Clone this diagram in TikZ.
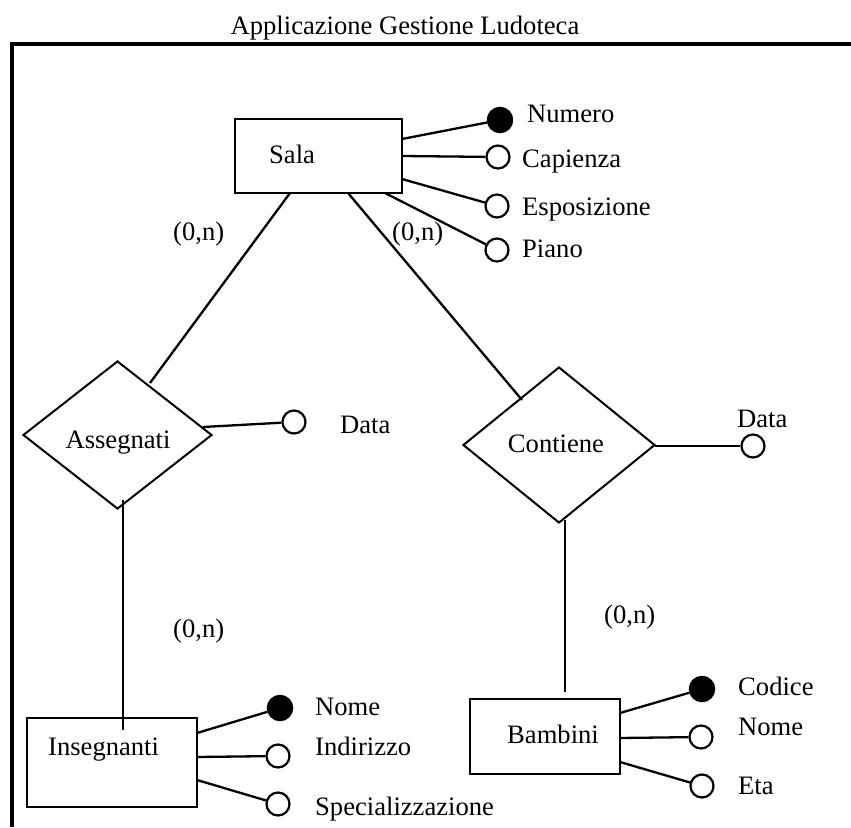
\documentclass[tikz,border=0pt]{standalone}
\usepackage{fontspec}
\setmainfont{Liberation Serif}
\usetikzlibrary{shapes.geometric}
\begin{document}
\begin{tikzpicture}[x=1pt,y=-1pt,
  every node/.style={font=\fontsize{26.6}{30}\selectfont, inner sep=0pt},
  entity/.style={draw, rectangle, line width=2.4pt},
  relation/.style={draw, diamond, line width=2pt},
  attr/.style={draw, circle, line width=2.2pt, minimum size=23pt, fill=white},
  keyattr/.style={draw, circle, line width=1.5pt, minimum size=25pt, fill=black},
  conn/.style={line width=2.3pt},
  thinconn/.style={line width=1.7pt},
  lbl/.style={anchor=base west},
  frame/.style={line width=3.2pt}]
\useasboundingbox (0,0) rectangle (851,827);
\clip (0,0) rectangle (851,827);

% title and frame
\node[anchor=base] (title) at (405,34) {Applicazione Gestione Ludoteca};
\coordinate (fA) at (12,827);
\coordinate (fB) at (12,44);
\coordinate (fC) at (851,44);
\draw[frame] (fA) -- (fB) -- (fC);

% entities
\node[entity, minimum width=167pt, minimum height=74pt] (sala) at (318.5,156) {};
\node[lbl] (salaT) at (269,163) {Sala};
\node[entity, minimum width=170pt, minimum height=89pt] (ins) at (112,762.5) {};
\node[lbl] (insT) at (48,755) {Insegnanti};
\node[entity, minimum width=150pt, minimum height=75pt] (bam) at (545,736.5) {};
\node[lbl] (bamT) at (507,743) {Bambini};

% relationships
\node[relation, minimum width=189pt, minimum height=148pt] (ass) at (117.5,435) {};
\node[anchor=base] (assT) at (118,448) {Assegnati};
\node[relation, minimum width=192pt, minimum height=156pt] (con) at (559,445) {};
\node[anchor=base] (conT) at (556,452) {Contiene};

% attribute circles
\node[keyattr] (cNum) at (500,120) {};
\node[attr] (cCap) at (498,157) {};
\node[attr] (cEsp) at (497,206) {};
\node[attr] (cPia) at (497,250) {};
\node[attr] (cAD) at (294,422) {};
\node[attr] (cCD) at (753,446) {};
\node[keyattr] (cINom) at (280,708) {};
\node[attr] (cIInd) at (278,756) {};
\node[attr] (cISpe) at (278,804) {};
\node[keyattr] (cBCod) at (702,689) {};
\node[attr] (cBNom) at (701,737) {};
\node[attr] (cBEta) at (702,786) {};

% attribute labels
\node[lbl] (tNum) at (527,122) {Numero};
\node[lbl] (tCap) at (522,167) {Capienza};
\node[lbl] (tEsp) at (522,215) {Esposizione};
\node[lbl] (tPia) at (522,257) {Piano};
\node[lbl] (tAD) at (340,433) {Data};
\node[lbl] (tCD) at (737,427) {Data};
\node[lbl] (tINom) at (315,715) {Nome};
\node[lbl] (tIInd) at (315,755) {Indirizzo};
\node[lbl] (tISpe) at (315,815) {Specializzazione};
\node[lbl] (tBCod) at (738,695) {Codice};
\node[lbl] (tBNom) at (738,735) {Nome};
\node[lbl] (tBEta) at (738,794) {Eta};

% cardinalities
\node[lbl] (k1) at (173,240) {(0,n)};
\node[lbl] (k2) at (392,240) {(0,n)};
\node[lbl] (k3) at (173,637) {(0,n)};
\node[lbl] (k4) at (604,623) {(0,n)};

% connection points
\coordinate (sNum) at (402,139);
\coordinate (sCap) at (402,156);
\coordinate (sEsp) at (402,179);
\coordinate (sPia) at (385,193);
\coordinate (sA) at (290,193);
\coordinate (aS) at (150,383);
\coordinate (sC) at (348,193);
\coordinate (cS) at (522,400);
\coordinate (aD) at (203,427);
\coordinate (cD) at (655,446);
\coordinate (aI) at (123,500);
\coordinate (iA) at (123,730);
\coordinate (cB) at (565,520);
\coordinate (bC) at (565,692);
\coordinate (iNom) at (197,733);
\coordinate (iInd) at (197,757);
\coordinate (iSpe) at (197,780);
\coordinate (bCod) at (620,713);
\coordinate (bNom) at (620,738);
\coordinate (bEta) at (620,762);

% connectors
\draw[conn] (sNum) -- (cNum);
\draw[conn] (sCap) -- (cCap);
\draw[conn] (sEsp) -- (cEsp);
\draw[conn] (sPia) -- (cPia);
\draw[conn] (sA) -- (aS);
\draw[conn] (sC) -- (cS);
\draw[conn] (aD) -- (cAD);
\draw[conn] (cD) -- (cCD);
\draw[thinconn] (aI) -- (iA);
\draw[thinconn] (cB) -- (bC);
\draw[conn] (iNom) -- (cINom);
\draw[conn] (iInd) -- (cIInd);
\draw[conn] (iSpe) -- (cISpe);
\draw[conn] (bCod) -- (cBCod);
\draw[conn] (bNom) -- (cBNom);
\draw[conn] (bEta) -- (cBEta);
\end{tikzpicture}
\end{document}
